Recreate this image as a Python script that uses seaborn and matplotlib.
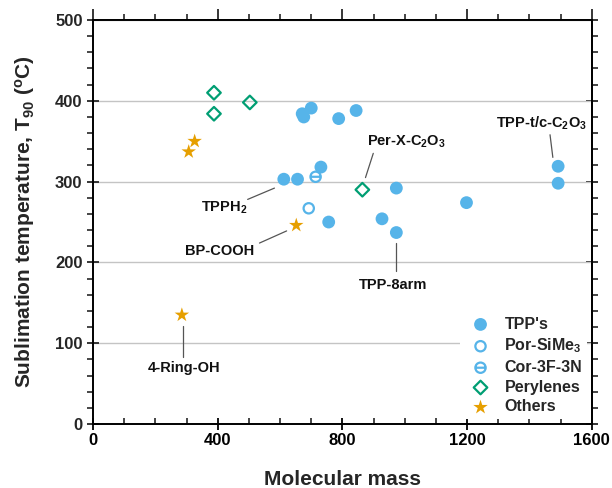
import matplotlib
matplotlib.use("Agg")
import matplotlib.pyplot as plt
from matplotlib.path import Path
from matplotlib.markers import MarkerStyle
from matplotlib.ticker import MultipleLocator
import seaborn as sns

# Molecular mass and T90 sublimation temperature per compound class
tpp_mass = [671, 676, 700, 788, 844, 612, 656, 731, 756, 927, 973, 973, 1198, 1492, 1492]
tpp_temp = [384, 380, 391, 378, 388, 303, 303, 318, 250, 254, 292, 237, 274, 319, 298]
por_mass = [692]
por_temp = [267]
cor_mass = [714]
cor_temp = [306]
per_mass = [388, 388, 503, 864]
per_temp = [410, 384, 398, 290]
oth_mass = [326, 307, 652, 285]
oth_temp = [350, 337, 246, 135]

labels = ["TPP's", "Por-SiMe$_3$", "Cor-3F-3N", "Perylenes", "Others"]

# Callout labels: text, text position, line start, line end
callouts = [
    ("TPP-t/c-C$_2$O$_3$", (1440, 372), (1466, 358), (1475, 330)),
    ("TPPH$_2$", (422, 268), (496, 278), (582, 292)),
    ("BP-COOH", (406, 214), (534, 224), (621, 239)),
    ("Per-X-C$_2$O$_3$", (1005, 349), (899, 335), (874, 305)),
    ("TPP-8arm", (962, 172), (973, 224), (973, 189)),
    ("4-Ring-OH", (291, 69), (288, 121), (288, 83)),
]

blue, green, orange = "#56B4E9", "#009E73", "#E69F00"

sns.set_theme(style="white")
plt.rcParams["font.family"] = ["Liberation Sans", "DejaVu Sans"]
plt.rcParams["font.weight"] = "bold"
plt.rcParams["mathtext.fontset"] = "custom"
plt.rcParams["mathtext.rm"] = "Liberation Sans:bold"
plt.rcParams["mathtext.it"] = "Liberation Sans:bold"
plt.rcParams["mathtext.bf"] = "Liberation Sans:bold"
plt.rcParams["mathtext.default"] = "rm"

fig = plt.figure(figsize=(6.12, 4.88), dpi=100)
ax = fig.add_axes([0.152, 0.131, 0.815, 0.828])

# circle with a horizontal bar through it
bar_circle = Path.make_compound_path(
    Path.unit_circle(), Path([[-1, 0], [1, 0]], [Path.MOVETO, Path.LINETO])
)
bar_marker = MarkerStyle(bar_circle)

sns.scatterplot(x=tpp_mass, y=tpp_temp, ax=ax, color=blue, marker="o", s=85,
                edgecolor="none", label=labels[0], zorder=3)
sns.scatterplot(x=por_mass, y=por_temp, ax=ax, marker="o", s=55,
                facecolors="none", edgecolor=blue, linewidth=1.6,
                label=labels[1], zorder=3)
sns.scatterplot(x=cor_mass, y=cor_temp, ax=ax, marker=bar_marker, s=55,
                facecolors="none", edgecolor=blue, linewidth=1.6,
                label=labels[2], zorder=3)
sns.scatterplot(x=per_mass, y=per_temp, ax=ax, marker="D", s=48,
                facecolors="none", edgecolor=green, linewidth=1.6,
                label=labels[3], zorder=3)
sns.scatterplot(x=oth_mass, y=oth_temp, ax=ax, marker="*", s=120, color=orange,
                edgecolor="none", label=labels[4], zorder=3)

for text, tpos, p0, p1 in callouts:
    ax.plot([p0[0], p1[0]], [p0[1], p1[1]], color="#555555", lw=0.9, zorder=2)
    ax.text(tpos[0], tpos[1], text, ha="center", va="center",
            fontsize=10.5, fontweight="bold", color="#111111")

ax.set_xlim(0, 1600)
ax.set_ylim(0, 500)
ax.xaxis.set_major_locator(MultipleLocator(400))
ax.xaxis.set_minor_locator(MultipleLocator(100))
ax.yaxis.set_major_locator(MultipleLocator(100))
ax.yaxis.set_minor_locator(MultipleLocator(20))

ax.grid(axis="y", which="major", color="#c4c4c4", lw=1.0)
ax.set_axisbelow(True)

for side in ax.spines.values():
    side.set_linewidth(1.4)
    side.set_color("black")

ax.tick_params(axis="x", which="major", direction="inout", length=9, width=1.3,
               labelsize=12, pad=2, colors="black", bottom=True)
ax.tick_params(axis="x", which="minor", direction="in", length=4, width=1.2,
               bottom=True)
ax.tick_params(axis="y", which="major", direction="inout", length=9, width=1.3,
               labelsize=12, pad=3, left=True)
ax.tick_params(axis="y", which="minor", direction="out", length=4, width=1.2,
               left=True)
for lab in ax.get_xticklabels() + ax.get_yticklabels():
    lab.set_fontweight("bold")

top = ax.secondary_xaxis("top")
top.xaxis.set_major_locator(MultipleLocator(400))
top.xaxis.set_minor_locator(MultipleLocator(100))
top.tick_params(which="major", direction="out", length=8, width=1.3, labeltop=False)
top.tick_params(which="minor", direction="out", length=4, width=1.2)
top.spines["top"].set_linewidth(1.4)

right = ax.secondary_yaxis("right")
right.yaxis.set_major_locator(MultipleLocator(100))
right.yaxis.set_minor_locator(MultipleLocator(20))
right.tick_params(which="major", direction="inout", length=9, width=1.3, labelright=False)
right.tick_params(which="minor", direction="out", length=4, width=1.2)
right.spines["right"].set_linewidth(1.4)

ax.set_xlabel("Molecular mass", fontsize=15, fontweight="bold", labelpad=16)
ax.set_ylabel("Sublimation temperature, T$_{90}$ ($^{o}$C)", fontsize=15,
              fontweight="bold", labelpad=13)

leg = ax.legend(loc="lower right", bbox_to_anchor=(1.0, 0.0), frameon=True,
                fontsize=11.5, handletextpad=0.5, labelspacing=0.3,
                borderaxespad=0.3, framealpha=1.0, borderpad=0.3)
leg.get_frame().set_edgecolor("none")
leg.get_frame().set_facecolor("white")
for t in leg.get_texts():
    t.set_fontweight("bold")

fig.savefig("out.png", dpi=100)
